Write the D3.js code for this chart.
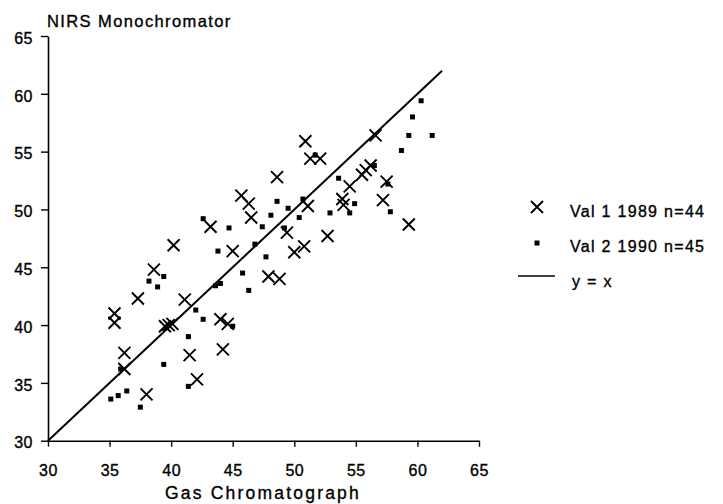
<!DOCTYPE html>
<html><head><meta charset="utf-8">
<script src="https://cdn.jsdelivr.net/npm/d3@7"></script>
<style>
html,body{margin:0;padding:0;background:#fff;}
svg text{font-family:"Liberation Sans",Arial,sans-serif;fill:#000;stroke:#000;stroke-width:0.35px;}
</style></head>
<body><svg id="c" width="723" height="504"></svg>
<script>
// Val 1 1989 (x = Gas Chromatograph, y = NIRS Monochromator)
const val1X = [43.2,46.5,40.2,45.0,38.6,37.3,41.1,35.4,35.4,39.5,40.1,44.0,44.6,36.2,41.5,44.2,36.2,42.1,38.0,
  56.6,50.9,51.3,52.1,56.2,55.8,55.5,48.6,57.5,54.5,45.7,46.3,53.9,54.0,57.2,51.1,49.4,59.3,52.7,50.0,50.8,47.9,48.8,39.8];
const val1Y = [48.5,49.3,46.9,46.4,44.8,42.3,42.2,41.0,40.2,39.9,40.1,40.5,40.1,37.6,37.4,37.9,36.2,35.3,34.0,
  56.4,55.9,54.4,54.4,53.8,53.4,53.0,52.8,52.4,52.0,51.2,50.5,50.9,50.4,50.8,50.3,48.0,48.7,47.7,46.3,46.8,44.2,44.0,40.0];
// Val 2 1990
const val2X = [60.3,59.6,59.3,61.2,58.7,51.7,56.5,53.6,48.6,49.5,50.7,48.1,50.4,52.9,54.9,54.5,57.8,42.6,44.7,47.4,49.2,
  43.8,46.8,47.7,45.8,44.0,43.6,46.3,39.4,38.2,38.9,42.0,42.6,41.4,39.4,35.9,41.4,35.1,35.7,36.4,37.5,45.0,57.6];
const val2Y = [59.4,58.0,56.4,56.4,55.1,54.7,53.8,52.7,50.7,50.1,50.9,49.5,49.3,49.7,50.5,49.7,49.8,49.2,48.4,48.5,48.4,
  46.4,47.0,45.9,44.5,43.6,43.4,43.0,44.2,43.8,43.3,41.3,40.5,39.0,36.6,36.2,34.7,33.6,33.9,34.3,32.9,39.9,52.2];
const lineXY = [30, 62];
const ticks = [30,35,40,45,50,55,60,65];
const legendLabels = ["Val 1 1989 n=44","Val 2 1990 n=45","y = x"];
const xTitle = "Gas Chromatograph", yTitle = "NIRS Monochromator";

const svg = d3.select("#c");
const x = d3.scaleLinear().domain([30,65]).range([48,479]);
const y = d3.scaleLinear().domain([30,65]).range([440.7,36]);

// axes
const xa = svg.append("g").attr("transform","translate(0,440.7)")
  .call(d3.axisBottom(x).tickValues(ticks).tickSize(6).tickSizeOuter(0).tickPadding(18));
const ya = svg.append("g").attr("transform","translate(48,0)")
  .call(d3.axisLeft(y).tickValues(ticks).tickSize(7).tickSizeOuter(0).tickPadding(8));
[xa,ya].forEach(g=>{
  g.select(".domain").attr("stroke","#000").attr("stroke-width",1.6);
  g.selectAll(".tick line").attr("stroke","#000").attr("stroke-width",1.4);
  g.selectAll(".tick text").style("font-size","16px").style("letter-spacing","0.5px").attr("fill","#000");
});
ya.selectAll(".tick text").attr("dy","0.45em");

svg.append("text").attr("x",263).attr("y",499).attr("text-anchor","middle")
  .style("font-size","17.5px").style("letter-spacing","2.2px").text(xTitle);
svg.append("text").attr("x",47).attr("y",27)
  .style("font-size","16.5px").style("letter-spacing","1.4px").text(yTitle);

// y = x line
svg.append("line").attr("x1",x(lineXY[0])).attr("y1",y(lineXY[0]))
  .attr("x2",x(lineXY[1])).attr("y2",y(lineXY[1]))
  .attr("stroke","#000").attr("stroke-width",2);

// Val 2 squares
const s = 5;
svg.append("g").selectAll("rect").data(val2X).join("rect")
  .attr("x",(d,i)=>x(d)-s/2).attr("y",(d,i)=>y(val2Y[i])-s/2)
  .attr("width",s).attr("height",s).attr("fill","#000");

// Val 1 crosses
const h = 6;
const cross = (cx,cy)=>`M${cx-h},${cy-h}L${cx+h},${cy+h}M${cx-h},${cy+h}L${cx+h},${cy-h}`;
svg.append("g").selectAll("path").data(val1X).join("path")
  .attr("d",(d,i)=>cross(x(d),y(val1Y[i])))
  .attr("stroke","#000").attr("stroke-width",1.9).attr("fill","none");

// legend
const lg = svg.append("g");
const rows = [211, 246, 280.5];
lg.append("path").attr("d",cross(537,rows[0]-4)).attr("stroke","#000").attr("stroke-width",1.9);
lg.append("rect").attr("x",537-2.5).attr("y",rows[1]-5.5).attr("width",s).attr("height",s).attr("fill","#000");
lg.append("line").attr("x1",518).attr("x2",555).attr("y1",rows[2]-4.5).attr("y2",rows[2]-4.5)
  .attr("stroke","#000").attr("stroke-width",1.6);
legendLabels.forEach((t,i)=>{
  lg.append("text").attr("x",i<2?570:572).attr("y",rows[i]+6)
    .style("font-size","16px").style("letter-spacing","1.3px").text(t);
});
</script></body></html>
